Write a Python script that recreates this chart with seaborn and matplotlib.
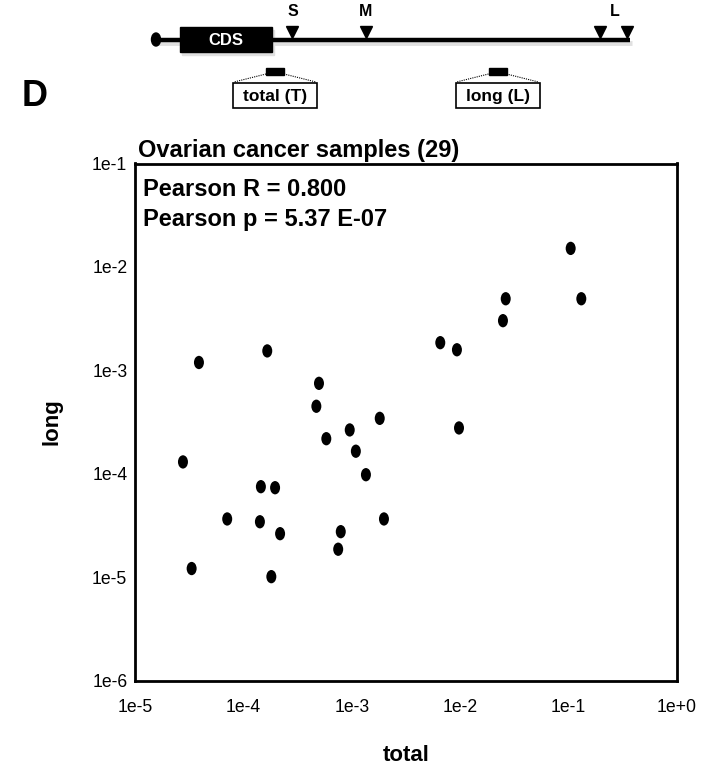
import matplotlib
matplotlib.use("Agg")
import matplotlib.pyplot as plt
import seaborn as sns
import pandas as pd
from matplotlib.path import Path
from matplotlib.transforms import Affine2D
from matplotlib.patches import Rectangle, Ellipse

# values (log-log scatter)
total = [3.89e-5, 1.66e-4, 4.98e-4, 4.71e-4, 1.81e-3, 9.57e-4, 5.82e-4, 1.09e-3,
         2.77e-5, 1.35e-3, 1.45e-4, 1.96e-4, 7.09e-5, 1.42e-4, 1.98e-3, 2.18e-4,
         7.91e-4, 7.49e-4, 3.33e-5, 1.81e-4, 0.1045, 2.63e-2, 0.131, 2.48e-2,
         6.55e-3, 9.33e-3, 9.75e-3]
long_ = [1.19e-3, 1.54e-3, 7.48e-4, 4.49e-4, 3.43e-4, 2.65e-4, 2.18e-4, 1.65e-4,
         1.30e-4, 9.78e-5, 7.49e-5, 7.32e-5, 3.65e-5, 3.43e-5, 3.65e-5, 2.63e-5,
         2.75e-5, 1.86e-5, 1.21e-5, 1.01e-5, 1.51e-2, 4.92e-3, 4.92e-3, 3.02e-3,
         1.85e-3, 1.58e-3, 2.77e-4]

x_ticks = [1e-5, 1e-4, 1e-3, 1e-2, 1e-1, 1e0]
x_tick_labels = ["1e-5", "1e-4", "1e-3", "1e-2", "1e-1", "1e+0"]
y_ticks = [1e-6, 1e-5, 1e-4, 1e-3, 1e-2, 1e-1]
y_tick_labels = ["1e-6", "1e-5", "1e-4", "1e-3", "1e-2", "1e-1"]

title = "Ovarian cancer samples (29)"
stats_lines = ["Pearson R = 0.800", "Pearson p = 5.37 E-07"]

df = pd.DataFrame({"total": total, "long": long_})

sns.set_style("white")
plt.rcParams["font.family"] = ["Liberation Sans", "DejaVu Sans"]
plt.rcParams["text.color"] = "black"
plt.rcParams["axes.labelcolor"] = "black"
plt.rcParams["xtick.color"] = "black"
plt.rcParams["ytick.color"] = "black"

W, H = 721, 767
fig = plt.figure(figsize=(W / 100, H / 100), dpi=100)

# schematic on top, drawn in pixel space
deco = fig.add_axes([0, 0, 1, 1], zorder=0)
deco.set_xlim(0, W)
deco.set_ylim(H, 0)
deco.axis("off")

deco.text(22, 96, "D", fontsize=26, fontweight="bold", va="center", ha="left")
# faint shadow under the gene line and CDS box
deco.plot([157, 632], [42.5, 42.5], color="0.88", lw=3.5, solid_capstyle="butt", zorder=1)
deco.add_patch(Rectangle((182, 29.5), 92, 25, color="0.88", zorder=1))
deco.plot([155, 630], [39.5, 39.5], color="black", lw=3.2, solid_capstyle="butt", zorder=2)
deco.add_patch(Ellipse((156, 39.5), 9, 13, color="black", zorder=3))
deco.add_patch(Rectangle((180, 27), 92, 25, color="black", zorder=3))
deco.text(226, 40.5, "CDS", color="white", fontsize=12, fontweight="bold",
          ha="center", va="center", zorder=4)
for tx in [292, 366, 600, 626.5]:
    deco.plot(tx, 32, marker="v", color="black", markersize=8, zorder=3)
for lbl, lx in [("S", 292.5), ("M", 366), ("L", 615)]:
    deco.text(lx, 12, lbl, fontsize=11.5, fontweight="bold", ha="center", va="center")

for bx, name in [(275, "total (T)"), (497.5, "long (L)")]:
    deco.add_patch(Rectangle((bx - 9, 67.5), 18, 7.5, color="black"))
    deco.plot([bx - 9, bx - 41], [74, 82], color="black", lw=0.8, ls=(0, (1, 1)))
    deco.plot([bx + 9, bx + 41], [74, 82], color="black", lw=0.8, ls=(0, (1, 1)))
    deco.add_patch(Rectangle((bx - 42, 83), 84, 25, facecolor="white",
                             edgecolor="black", lw=1.2))
    deco.text(bx, 96, name, fontsize=12.5, fontweight="bold", ha="center", va="center")

# main scatter
ax = fig.add_axes([135 / W, 1 - 680.5 / H, 542 / W, 517 / H], zorder=1)
ellipse = Path.unit_circle().transformed(Affine2D().scale(0.75, 1.0))
sns.scatterplot(data=df, x="total", y="long", marker=ellipse, s=92,
                color="black", edgecolor="none", ax=ax, legend=False)
ax.set_xscale("log")
ax.set_yscale("log")
ax.set_xlim(1e-5, 1e0)
ax.set_ylim(1e-6, 1e-1)
ax.set_xticks(x_ticks)
ax.set_xticklabels(x_tick_labels)
ax.set_yticks(y_ticks)
ax.set_yticklabels(y_tick_labels)
ax.minorticks_off()
ax.tick_params(axis="both", which="major", direction="out", length=4.5, width=1.2,
               labelsize=12.7, color="black", labelcolor="black")
ax.tick_params(axis="x", pad=9)
ax.tick_params(axis="y", pad=1)
for sp in ax.spines.values():
    sp.set_linewidth(2.0)
    sp.set_color("black")

ax.set_xlabel("total", fontsize=16, fontweight="bold")
ax.set_ylabel("long", fontsize=16, fontweight="bold")
ax.xaxis.set_label_coords(0.5, -0.125)
ax.yaxis.set_label_coords(-0.133, 0.5)

ax.set_title(title, loc="left", fontsize=17, fontweight="bold", pad=5, x=0.005)
ax.text(0.014, 0.972, stats_lines[0], transform=ax.transAxes, fontsize=17,
        fontweight="bold", va="top", ha="left")
ax.text(0.014, 0.914, stats_lines[1], transform=ax.transAxes, fontsize=17,
        fontweight="bold", va="top", ha="left")

fig.savefig("out.png", dpi=100)
